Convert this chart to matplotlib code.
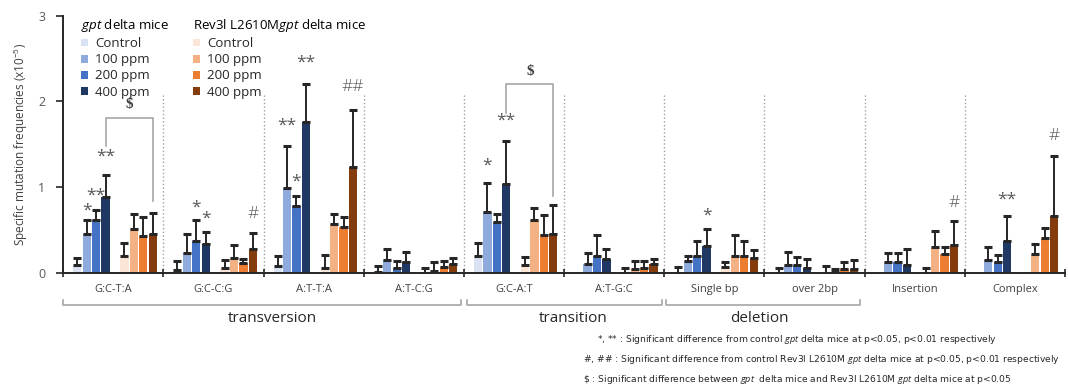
import matplotlib
matplotlib.use("Agg")
import matplotlib.pyplot as plt
import matplotlib.transforms as mtransforms
from matplotlib.patches import Patch
import numpy as np

plt.rcParams['font.family'] = ['Open Sans', 'DejaVu Sans']
plt.rcParams['mathtext.fontset'] = 'custom'
plt.rcParams['mathtext.rm'] = 'Open Sans'
plt.rcParams['mathtext.it'] = 'Open Sans:italic'

categories = ["G:C-T:A", "G:C-C:G", "A:T-T:A", "A:T-C:G", "G:C-A:T",
              "A:T-G:C", "Single bp", "over 2bp", "Insertion", "Complex"]
nan = np.nan

# mean values and top of error bar (x10^-5)
gpt_ctrl = [0.09, 0.035, 0.08, 0.01, 0.20, nan, 0.0, 0.0, nan, nan]
gpt_ctrl_top = [0.17, 0.14, 0.19, 0.08, 0.35, nan, 0.066, 0.06, nan, nan]
gpt_100 = [0.45, 0.23, 0.985, 0.15, 0.71, 0.105, 0.14, 0.086, 0.125, 0.15]
gpt_100_top = [0.61, 0.45, 1.48, 0.28, 1.05, 0.23, 0.195, 0.24, 0.226, 0.30]
gpt_200 = [0.62, 0.37, 0.78, 0.05, 0.59, 0.19, 0.195, 0.086, 0.13, 0.125]
gpt_200_top = [0.73, 0.62, 0.90, 0.14, 0.68, 0.44, 0.37, 0.18, 0.23, 0.21]
gpt_400 = [0.88, 0.34, 1.76, 0.12, 1.03, 0.165, 0.31, 0.06, 0.093, 0.37]
gpt_400_top = [1.14, 0.475, 2.20, 0.24, 1.54, 0.28, 0.51, 0.16, 0.28, 0.66]
rev_ctrl = [0.20, 0.06, 0.06, 0.0, 0.09, 0.0, 0.07, 0.0, 0.0, nan]
rev_ctrl_top = [0.35, 0.15, 0.21, 0.055, 0.18, 0.06, 0.13, 0.08, 0.06, nan]
rev_100 = [0.51, 0.17, 0.565, 0.02, 0.61, 0.047, 0.19, 0.01, 0.30, 0.22]
rev_100_top = [0.68, 0.32, 0.69, 0.12, 0.75, 0.14, 0.44, 0.04, 0.49, 0.33]
rev_200 = [0.43, 0.11, 0.53, 0.07, 0.44, 0.06, 0.195, 0.04, 0.22, 0.41]
rev_200_top = [0.65, 0.16, 0.65, 0.14, 0.67, 0.14, 0.37, 0.12, 0.30, 0.52]
rev_400 = [0.45, 0.28, 1.23, 0.10, 0.45, 0.10, 0.17, 0.04, 0.32, 0.66]
rev_400_top = [0.70, 0.46, 1.90, 0.175, 0.79, 0.16, 0.27, 0.15, 0.60, 1.36]

dose_labels = ["Control", "100 ppm", "200 ppm", "400 ppm"]
blue_colors = ["#dae3f3", "#8faadc", "#4472c4", "#203864"]
orange_colors = ["#fbe5d6", "#f4b183", "#ed7d31", "#843c0c"]

# significance marks: (category, bar slot, y, text)
marks = [(0, 1, 0.72, "*"), (0, 2, 0.90, "**"), (0, 3, 1.35, "**"),
         (1, 2, 0.76, "*"), (1, 3, 0.63, "*"), (1, 8, 0.69, "#"),
         (2, 1, 1.72, "**"), (2, 2, 1.06, "*"), (2, 3, 2.45, "**"), (2, 8, 2.17, "##"),
         (4, 1, 1.25, "*"), (4, 3, 1.77, "**"),
         (6, 3, 0.67, "*"),
         (8, 8, 0.81, "#"),
         (9, 3, 0.85, "**"), (9, 8, 1.59, "#")]
# $ brackets: (category, top, left leg bottom, right leg bottom)
dollar_brackets = [(0, 1.81, 1.48, 0.84), (4, 2.20, 1.87, 0.90)]
# mutation classes under the axis: (label, start, end, text centre)
classes = [("transversion", 0.0, 3.97, 2.09), ("transition", 4.03, 5.98, 5.09),
           ("deletion", 6.02, 7.95, 6.95)]

means = [gpt_ctrl, gpt_100, gpt_200, gpt_400, rev_ctrl, rev_100, rev_200, rev_400]
tops = [gpt_ctrl_top, gpt_100_top, gpt_200_top, gpt_400_top,
        rev_ctrl_top, rev_100_top, rev_200_top, rev_400_top]
colors = blue_colors + orange_colors
slots = [0, 1, 2, 3, 5, 6, 7, 8]

def slot_x(cat, slot):
    return cat + 0.14 + 0.094 * slot

fig = plt.figure(figsize=(10.68, 3.85), dpi=100)
ax = fig.add_axes([63.3 / 1068, 1 - 272.7 / 385, (1065 - 63.3) / 1068, 257 / 385])

cat_idx = np.arange(len(categories))
for m, t, c, s in zip(means, tops, colors, slots):
    m = np.array(m, dtype=float)
    t = np.array(t, dtype=float)
    x = slot_x(cat_idx, s)
    ax.bar(x, np.nan_to_num(m), width=0.082, color=c, zorder=2)
    ax.errorbar(x, m, yerr=[np.zeros_like(m), t - m], fmt="none",
                ecolor="#262626", elinewidth=1.4, capsize=2.8, capthick=2.2, zorder=3)

for b in range(1, 10):
    ax.plot([b, b], [0, 2.1], ls=":", color="#a0a0a0", lw=1, zorder=1)

for cat, slot, y, txt in marks:
    ax.text(slot_x(cat, slot), y, txt, ha="center", va="center", fontsize=12.5,
            color="#595959", fontweight="light" if "#" in txt else "normal")

for cat, top, lb, rb in dollar_brackets:
    x0, x1 = slot_x(cat, 3), slot_x(cat, 8)
    ax.plot([x0, x0, x1, x1], [lb, top, top, rb], color="#a6a6a6", lw=1.2)
    ax.text((x0 + x1) / 2, top + 0.15, r"\$", ha="center", va="center",
            fontsize=11, fontweight="bold", family="Liberation Serif", color="#404040")

ax.set_xlim(0, 10)
ax.set_ylim(0, 3)
ax.set_yticks([0, 1, 2, 3])
ax.tick_params(axis="y", length=5, width=1.2, colors="#262626", labelcolor="#595959",
               labelsize=9, pad=8)
ax.set_xticks(cat_idx + 0.5)
ax.set_xticklabels(categories, fontsize=8, color="#404040")
ax.tick_params(axis="x", which="major", length=0, pad=8)
ax.set_xticks(np.arange(0, 11), minor=True)
ax.tick_params(axis="x", which="minor", length=6, width=1.2, direction="inout",
               color="#262626")
for side in ["top", "right"]:
    ax.spines[side].set_visible(False)
for side in ["left", "bottom"]:
    ax.spines[side].set_color("#262626")
    ax.spines[side].set_linewidth(1.4)
ax.set_ylabel("Specific mutation frequencies (x10$^{-5}$)", fontsize=8.5,
              color="#404040", labelpad=6)

trans = mtransforms.blended_transform_factory(ax.transData, ax.transAxes)
for label, x0, x1, xc in classes:
    ax.plot([x0, x0, x1, x1], [-0.105, -0.126, -0.126, -0.105], color="#a6a6a6",
            lw=1.2, transform=trans, clip_on=False)
    ax.text(xc, -0.178, label, transform=trans, ha="center", va="center",
            fontsize=11, color="#262626")

handles_gpt = [Patch(facecolor=c) for c in blue_colors]
handles_rev = [Patch(facecolor=c) for c in orange_colors]
common = dict(loc="upper left", frameon=False, fontsize=9.5, handlelength=0.55,
              handleheight=0.55, handletextpad=0.5, labelspacing=0.24,
              borderpad=0, borderaxespad=0, alignment="left", title_fontsize=9.5,
              labelcolor="#262626")
leg1 = fig.legend(handles_gpt, dose_labels, title="$\\it{gpt}$ delta mice",
                  bbox_to_anchor=(81 / 1068, 1 - 17 / 385), **common)
leg2 = fig.legend(handles_rev, dose_labels, title="Rev3l L2610M$\\it{gpt}$ delta mice",
                  bbox_to_anchor=(193 / 1068, 1 - 17 / 385), **common)

notes = ["*, ** : Significant difference from control $\\it{gpt}$ delta mice at p<0.05, p<0.01 respectively",
         "#, ## : Significant difference from control Rev3l L2610M $\\it{gpt}$ delta mice at p<0.05, p<0.01 respectively",
         "\\$ : Significant difference between $\\it{gpt}$  delta mice and Rev3l L2610M $\\it{gpt}$ delta mice at p<0.05"]
note_pos = [(597, 340), (583, 360), (583, 379)]
for txt, (px, py) in zip(notes, note_pos):
    fig.text(px / 1068, 1 - py / 385, txt, ha="left", va="center", fontsize=6.6,
             family=["Liberation Sans Narrow", "DejaVu Sans"], color="#262626")

fig.savefig("out.png", dpi=100)
